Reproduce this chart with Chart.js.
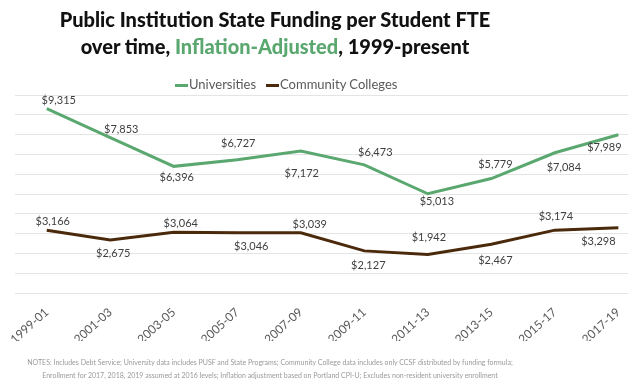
<!DOCTYPE html>
<html>
<head>
<meta charset="utf-8">
<script src="https://cdn.jsdelivr.net/npm/chart.js@4"></script>
<style>
body { margin: 0; background: #fff; }
#wrap { position: relative; width: 632px; height: 381px; overflow: hidden; font-family: Lato, sans-serif; }
#chart { position: absolute; left: 0; top: 0; }
.title { position: absolute; left: 0; top: 6px; width: 550px; text-align: center; font-weight: 900; font-size: 20px; line-height: 27px; color: #111; }
.title span { color: #5aa870; }
.legend { position: absolute; left: 175px; top: 76px; font-size: 13px; color: #595959; white-space: nowrap; }
.legend i { display: inline-block; width: 13px; height: 3px; vertical-align: middle; margin-right: 1px; }
.notes { position: absolute; left: 0; width: 540px; text-align: center; font-size: 7px; color: #9a9a9a; white-space: nowrap; }
.notes span { display: inline-block; transform: scaleX(1.0); }
</style>
</head>
<body>
<div id="wrap">
  <canvas id="chart" width="632" height="381"></canvas>
  <div class="title">Public Institution State Funding per Student FTE<br>over time, <span>Inflation-Adjusted</span>, 1999-present</div>
  <div class="legend"><i style="background:#5aa870"></i>Universities &nbsp;&nbsp;<i style="background:#4b2a0b"></i>Community Colleges</div>
  <div class="notes" style="top:358px"><span>NOTES: Includes Debt Service; University data includes PUSF and State Programs; Community College data includes only CCSF distributed by funding formula;</span></div>
  <div class="notes" style="top:371px"><span>Enrollment for 2017, 2018, 2019 assumed at 2016 levels; Inflation adjustment based on Portland CPI-U; Excludes non-resident university enrollment</span></div>
</div>
<script>
const categories = ['1999-01', '2001-03', '2003-05', '2005-07', '2007-09', '2009-11', '2011-13', '2013-15', '2015-17', '2017-19'];
const universities = [9315, 7853, 6396, 6727, 7172, 6473, 5013, 5779, 7084, 7989];
const communityColleges = [3166, 2675, 3064, 3046, 3039, 2127, 1942, 2467, 3174, 3298];

// where each value label sits relative to its point (px)
const univLabelOffsets = [[12, -8], [11, -8], [3, 11], [1, -16], [1, 22], [11, -12], [9, 8], [4, -14], [9, 15], [-14, 13]];
const ccLabelOffsets = [[6, -9], [3, 13], [7, -9], [14, 14], [9, -8], [4, 15], [1, -17], [4, 16], [1, -14], [-20, 14]];

const valueLabels = {
    id: 'valueLabels',
    afterDatasetsDraw(chart) {
        const ctx = chart.ctx;
        ctx.save();
        ctx.font = '11px Lato, sans-serif';
        ctx.fillStyle = '#404040';
        ctx.textAlign = 'center';
        ctx.textBaseline = 'middle';
        chart.data.datasets.forEach((ds, di) => {
            const offs = di === 0 ? univLabelOffsets : ccLabelOffsets;
            chart.getDatasetMeta(di).data.forEach((pt, i) => {
                const text = '$' + ds.data[i].y.toLocaleString('en-US');
                ctx.fillText(text, pt.x + offs[i][0], pt.y + offs[i][1]);
            });
        });
        ctx.restore();
    }
};

function toPoints(arr) {
    return arr.map((v, i) => ({ x: i, y: v }));
}

var ctx = document.getElementById('chart').getContext('2d');
var chart = new Chart(ctx, {
    type: 'line',
    data: {
        datasets: [{
            label: 'Universities',
            data: toPoints(universities),
            borderColor: '#5aa870',
            backgroundColor: '#5aa870',
            borderWidth: 3,
            pointRadius: 0,
            tension: 0
        }, {
            label: 'Community Colleges',
            data: toPoints(communityColleges),
            borderColor: '#4b2a0b',
            backgroundColor: '#4b2a0b',
            borderWidth: 3,
            pointRadius: 0,
            tension: 0
        }]
    },
    options: {
        responsive: false,
        animation: false,
        devicePixelRatio: 1,
        layout: { padding: { left: 15, right: 0, top: 95, bottom: 40 } },
        plugins: {
            legend: { display: false },
            title: { display: false },
            tooltip: { enabled: false }
        },
        scales: {
            x: {
                type: 'linear',
                min: -0.5,
                max: 9.155,
                grid: { display: false },
                border: { display: false },
                afterFit: s => { s.height = 48; },
                ticks: {
                    stepSize: 1,
                    includeBounds: false,
                    autoSkip: false,
                    minRotation: 42,
                    maxRotation: 42,
                    padding: 4,
                    color: '#595959',
                    font: { family: 'Lato, sans-serif', size: 12 },
                    callback: v => categories[v]
                }
            },
            y: {
                min: 0,
                max: 10000,
                afterFit: s => { s.width = 0; },
                grid: { color: '#e4e4e4', drawTicks: false },
                border: { display: false },
                ticks: { display: false, stepSize: 1000 }
            }
        }
    },
    plugins: [valueLabels]
});
</script>
</body>
</html>
